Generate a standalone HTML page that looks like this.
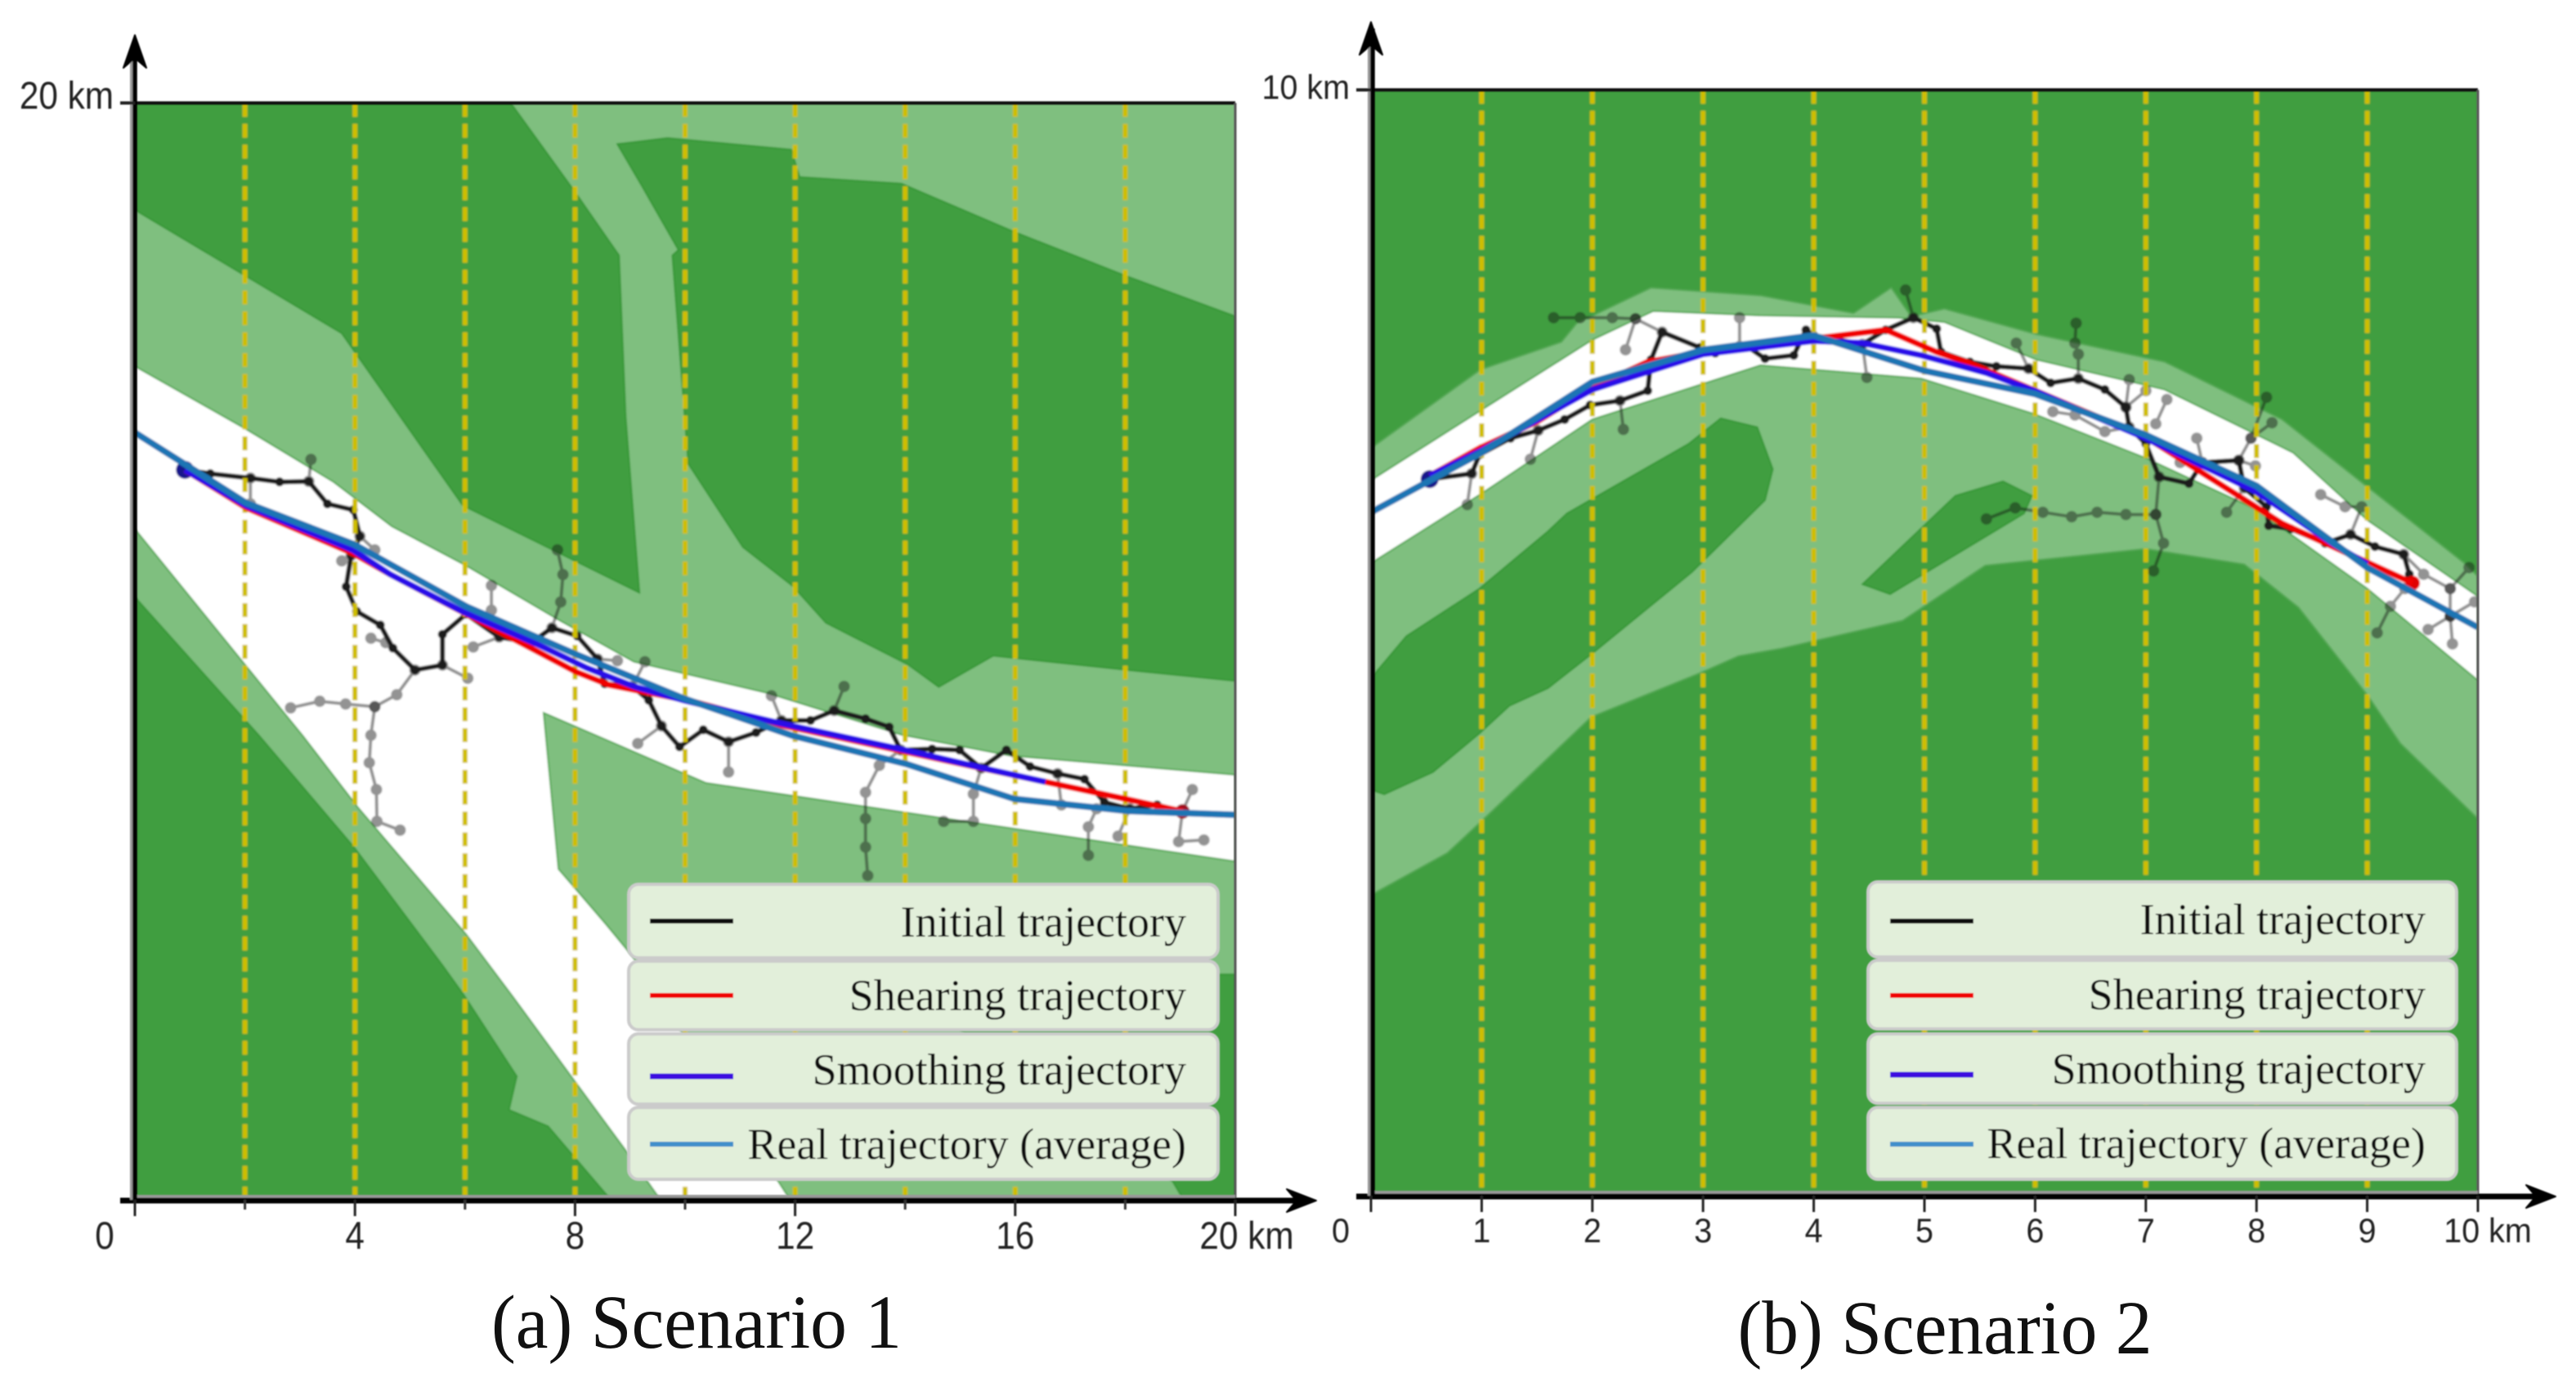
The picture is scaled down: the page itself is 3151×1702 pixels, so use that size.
<!DOCTYPE html>
<html lang="en">
<head>
<meta charset="utf-8">
<title>Trajectory planning scenarios</title>
<style>
html,body{margin:0;padding:0;background:#fff;}
svg{display:block;}
.serif{font-family:"Liberation Serif",serif;fill:#111;}
.sans{font-family:"Liberation Sans",sans-serif;fill:#222;}
</style>
</head>
<body>
<svg id="figure" xmlns="http://www.w3.org/2000/svg" width="3151" height="1702" viewBox="0 0 3151 1702">
<defs>
<filter id="soft" x="-2%" y="-2%" width="104%" height="104%"><feGaussianBlur stdDeviation="1"/></filter>
<filter id="softer" x="-2%" y="-5%" width="104%" height="110%"><feGaussianBlur stdDeviation="0.7"/></filter>
<clipPath id="clip-a"><rect x="165" y="126" width="1346" height="1342"/></clipPath>
<clipPath id="clip-b"><rect x="1677" y="110" width="1354" height="1353"/></clipPath>
</defs>
<g id="panel-a"></g>
<g id="panel-b"></g>

<g font-size="54" filter="url(#softer)">
  <g>
    <rect x="769" y="1082" width="721" height="90" rx="12" fill="#e2efda" stroke="#cbcbcb" stroke-width="4"/>
    <line x1="795" x2="897" y1="1127" y2="1127" stroke="#111" stroke-width="6"/>
    <text class="serif" x="1451" y="1146" text-anchor="end">Initial trajectory</text>
  </g>
  <g>
    <rect x="769" y="1176" width="721" height="84" rx="12" fill="#e2efda" stroke="#cbcbcb" stroke-width="4"/>
    <line x1="795" x2="897" y1="1218" y2="1218" stroke="#f00000" stroke-width="6"/>
    <text class="serif" x="1451" y="1236" text-anchor="end">Shearing trajectory</text>
  </g>
  <g>
    <rect x="769" y="1265" width="721" height="86" rx="12" fill="#e2efda" stroke="#cbcbcb" stroke-width="4"/>
    <line x1="795" x2="897" y1="1317" y2="1317" stroke="#3d10e0" stroke-width="7"/>
    <text class="serif" x="1451" y="1327" text-anchor="end">Smoothing trajectory</text>
  </g>
  <g>
    <rect x="769" y="1355" width="721" height="88" rx="12" fill="#e2efda" stroke="#cbcbcb" stroke-width="4"/>
    <line x1="795" x2="897" y1="1400" y2="1400" stroke="#3f8fcb" stroke-width="6"/>
    <text class="serif" x="1451" y="1418" text-anchor="end">Real trajectory (average)</text>
  </g>
</g>

<g font-size="54" filter="url(#softer)">
  <g>
    <rect x="2285" y="1079" width="720" height="92" rx="12" fill="#e2efda" stroke="#cbcbcb" stroke-width="4"/>
    <line x1="2312" x2="2414" y1="1127" y2="1127" stroke="#111" stroke-width="6"/>
    <text class="serif" x="2967" y="1143" text-anchor="end">Initial trajectory</text>
  </g>
  <g>
    <rect x="2285" y="1175" width="720" height="84" rx="12" fill="#e2efda" stroke="#cbcbcb" stroke-width="4"/>
    <line x1="2312" x2="2414" y1="1218" y2="1218" stroke="#f00000" stroke-width="6"/>
    <text class="serif" x="2967" y="1235" text-anchor="end">Shearing trajectory</text>
  </g>
  <g>
    <rect x="2285" y="1265" width="720" height="85" rx="12" fill="#e2efda" stroke="#cbcbcb" stroke-width="4"/>
    <line x1="2312" x2="2414" y1="1315" y2="1315" stroke="#3d10e0" stroke-width="7"/>
    <text class="serif" x="2967" y="1326" text-anchor="end">Smoothing trajectory</text>
  </g>
  <g>
    <rect x="2285" y="1355" width="720" height="88" rx="12" fill="#e2efda" stroke="#cbcbcb" stroke-width="4"/>
    <line x1="2312" x2="2414" y1="1400" y2="1400" stroke="#3f8fcb" stroke-width="6"/>
    <text class="serif" x="2967" y="1417" text-anchor="end">Real trajectory (average)</text>
  </g>
</g>

<text class="serif" x="852" y="1649" text-anchor="middle" font-size="93" textLength="502" lengthAdjust="spacingAndGlyphs">(a) Scenario 1</text>
<text class="serif" x="2379" y="1656" text-anchor="middle" font-size="93" textLength="507" lengthAdjust="spacingAndGlyphs">(b) Scenario 2</text>
</svg>

<script>
/* ---------- Scenario 1 data (km) ---------- */
const a_xMajorTicks = [0, 4, 8, 12, 16, 20];
const a_xMinorTicks = [2, 6, 10, 14, 18];
const a_xTickLabels = ['0', '4', '8', '12', '16', '20 km'];
const a_gridLines = [2, 4, 6, 8, 10, 12, 14, 16, 18];
const a_yLabel = '20 km';
const a_whiteRegion = [[0,15.2],[1.99,14.07],[3.61,13.09],[4.67,12.28],[6.01,11.57],[7.71,10.57],[9.07,9.81],[11.5,9.24],[13.93,8.48],[15.9,8.1],[20,7.75],[20,6.17],[10.38,7.6],[7.43,8.88],[7.7,6.03],[8.55,5.04],[9.05,4.43],[11.91,0],[9.55,0],[8.95,0.86],[7.98,2.18],[6.87,3.7],[6.02,4.84],[4.04,7.17],[3.05,8.46],[0,12.23]];
const a_darkRegions = [
  [[0,20],[6.83,20],[8.01,18.36],[8.8,17.22],[8.92,14.28],[9.17,11.07],[5.96,12.66],[3.76,15.8],[0,18.05]],
  [[8.77,19.25],[9.68,19.36],[11.93,19.15],[12.08,18.65],[13.93,18.53],[15.98,17.65],[18.03,16.84],[20,16.11],[20,9.46],[18.03,9.66],[15.6,9.92],[14.61,9.35],[14.05,9.76],[12.56,10.52],[11.96,11.19],[11.05,11.9],[10.06,13.42],[9.77,17.22],[9.88,17.32],[9.23,18.46]],
  [[0,10.99],[2.26,8.46],[3.99,6.42],[5.58,4.29],[5.98,3.73],[6.94,2.25],[6.8,1.64],[7.51,1.34],[8.65,0],[0,0]],
  [[20,4.11],[19.7,4.11],[15,3.1],[18.86,0.34],[19.06,0],[20,0]]
];
const a_initial = [[0.91,13.31],[1.37,13.24],[2.1,13.16],[2.63,13.09],[3.16,13.1],[3.5,12.69],[3.97,12.58],[4.09,12.1],[3.93,11.75],[3.84,11.18],[4.03,10.73],[4.46,10.48],[4.69,10.06],[5.09,9.66],[5.59,9.75],[5.59,10.31],[6.02,10.68],[6.62,10.26],[7.21,10.16],[7.58,10.43],[8.04,10.28],[8.41,9.86],[8.54,9.41],[9.04,9.36],[9.34,9.11],[9.57,8.64],[9.9,8.26],[10.33,8.57],[10.79,8.35],[11.29,8.52],[11.75,8.74],[12.28,8.74],[12.71,8.92],[13.28,8.77],[13.71,8.62],[13.92,8.2],[14.49,8.22],[14.99,8.2],[15.38,7.87],[15.84,8.2],[16.27,7.9],[16.77,7.77],[17.26,7.67],[17.62,7.25],[18.08,7.13],[18.58,7.2],[19.04,7.08]];
const a_shearing = [[0.91,13.31],[2.02,12.62],[3.96,11.79],[4.65,11.4],[5.95,10.72],[8.01,9.63],[8.61,9.39],[10.13,9.09],[11.72,8.66],[14,8.17],[16.55,7.62],[18.05,7.3],[19.05,7.08]];
const a_smoothing = [[0.91,13.31],[2.02,12.66],[3.96,11.85],[4.65,11.4],[5.95,10.73],[7.27,10.15],[8.21,9.7],[9.07,9.36],[10,9.1],[11.72,8.69],[14,8.2],[15.42,7.87],[16.55,7.62]];
const a_real = [[0,13.99],[2.02,12.71],[3.99,11.95],[6.04,10.81],[8.01,9.95],[9.98,9.14],[11.96,8.46],[14.01,7.95],[15.98,7.31],[18.04,7.09],[20,7.02]];
const a_branches = [
  [[3.16,13.1],[3.2,13.5]],
  [[2.1,13.16],[2.1,12.69]],
  [[4.09,12.1],[4.36,11.85]],
  [[3.93,11.75],[3.76,11.65]],
  [[4.29,10.24],[4.56,10.16]],
  [[5.09,9.66],[4.76,9.21],[4.36,8.99],[3.83,9.04],[3.36,9.09],[2.83,8.97]],
  [[4.36,8.99],[4.29,8.47],[4.26,7.97],[4.39,7.48],[4.4,6.9],[4.82,6.74]],
  [[5.59,9.75],[6.05,9.51]],
  [[6.62,10.26],[6.15,10.08]],
  [[6.48,10.75],[6.48,11.2]],
  [[7.58,10.43],[7.74,10.9],[7.78,11.4],[7.68,11.85]],
  [[8.41,9.86],[8.77,9.83]],
  [[9.04,9.36],[9.27,9.81]],
  [[9.57,8.64],[9.14,8.32]],
  [[10.79,8.35],[10.79,7.8]],
  [[11.75,8.74],[11.57,9.19]],
  [[12.71,8.92],[12.89,9.36]],
  [[13.92,8.2],[13.53,7.92],[13.28,7.43],[13.28,6.95],[13.28,6.43],[13.32,5.91]],
  [[15.38,7.87],[15.24,7.4],[15.24,6.9],[14.7,6.9]],
  [[16.77,7.77],[16.84,7.2]],
  [[17.48,7.13],[17.33,6.8],[17.33,6.28]],
  [[18.08,7.13],[17.87,6.63]],
  [[19.04,7.08],[19.22,7.48]],
  [[19.04,7.08],[18.97,6.53],[19.43,6.56]]
];

/* ---------- Scenario 2 data (km) ---------- */
const b_xMajorTicks = [0, 1, 2, 3, 4, 5, 6, 7, 8, 9, 10];
const b_xTickLabels = ['0', '1', '2', '3', '4', '5', '6', '7', '8', '9', '10 km'];
const b_gridLines = [1, 2, 3, 4, 5, 6, 7, 8, 9];
const b_yLabel = '10 km';
const b_lightRegion = [[0,6.76],[0.99,7.47],[1.72,7.72],[1.86,7.89],[2.53,8.21],[3.52,8.14],[4.36,7.98],[4.7,8.21],[4.88,7.95],[5.18,8.02],[6.01,7.79],[7.17,7.54],[8.23,7.02],[9.04,6.38],[9.89,5.71],[10,5.6],[10,3.41],[9.3,4.09],[9,4.53],[8.38,5.32],[7.89,5.71],[7,5.85],[5.55,5.7],[4.8,5.2],[3.71,4.95],[3.32,4.88],[2.98,4.73],[1.99,4.33],[0.98,3.37],[0.69,3.1],[0,2.72]];
const b_whiteRegion = [[0,6.47],[0.99,7.1],[2,7.74],[2.55,8],[3.52,7.96],[4.76,7.94],[5.18,7.9],[6.01,7.56],[7.17,7.29],[8.33,6.72],[9,6.11],[10,5.42],[10,4.66],[9,5.49],[7.99,6.21],[7,6.67],[5.99,7.07],[4.97,7.39],[3.52,7.51],[2,7.02],[1,6.35],[0,5.72]];
const b_darkRegions = [
  [[3.16,7.03],[3.49,6.95],[3.63,6.57],[3.56,6.29],[2.9,5.64],[2.02,4.92],[1.6,4.59],[1.25,4.43],[0.98,4.18],[0.56,3.83],[0.12,3.63],[0,3.67],[0,4.68],[0.32,5.06],[0.98,5.49],[1.59,6],[1.77,6.17],[2.87,6.8]],
  [[5.28,6.33],[5.71,6.46],[5.97,6.33],[5.9,6.17],[4.69,5.44],[4.44,5.53]]
];
const b_initial = [[0.53,6.48],[0.91,6.53],[0.98,6.7],[1.26,6.85],[1.51,6.92],[1.75,7.02],[1.98,7.15],[2.25,7.19],[2.5,7.28],[2.53,7.56],[2.63,7.81],[2.97,7.67],[3.11,7.62],[3.4,7.68],[3.56,7.57],[3.82,7.6],[3.93,7.83],[4,7.78],[4.44,7.7],[4.65,7.83],[4.9,7.94],[5.11,7.84],[5.15,7.63],[5.41,7.54],[5.65,7.5],[5.94,7.48],[6.14,7.35],[6.39,7.39],[6.63,7.29],[6.82,7.13],[6.85,6.95],[7,6.8],[7.12,6.5],[7.39,6.44],[7.51,6.63],[7.84,6.65],[7.89,6.4],[8.09,6.23],[8.11,6.06],[8.31,6.03],[8.62,5.9],[8.85,5.98],[9.07,5.87],[9.33,5.8],[9.38,5.62],[9.41,5.54]];
const b_shearing = [[0.53,6.51],[0.98,6.76],[1.5,7],[2,7.31],[2.5,7.54],[3,7.63],[4,7.75],[4.65,7.83],[5.11,7.63],[5.38,7.54],[6,7.28],[7,6.86],[8.23,6.08],[9.41,5.54]];
const b_smoothing = [[0.53,6.51],[1,6.74],[2,7.29],[3,7.61],[4,7.73],[4.44,7.71],[4.97,7.6],[5.56,7.44],[5.99,7.28],[7,6.85],[7.99,6.37],[8.7,5.89],[9,5.71]];
const b_real = [[0,6.18],[1,6.72],[2,7.36],[3,7.65],[4,7.78],[5,7.46],[6,7.25],[7,6.88],[8,6.42],[9,5.68],[10,5.14]];
const b_branches = [
  [[0.91,6.53],[0.87,6.25]],
  [[1.51,6.92],[1.44,6.66]],
  [[2.25,7.19],[2.28,6.93]],
  [[2.63,7.81],[2.39,7.93],[2.18,7.94],[1.89,7.94],[1.65,7.94]],
  [[2.39,7.93],[2.3,7.65]],
  [[3.33,7.68],[3.33,7.94]],
  [[4.44,7.7],[4.48,7.4]],
  [[4.9,7.94],[4.83,8.19]],
  [[5.94,7.48],[5.83,7.71]],
  [[6.39,7.39],[6.39,7.61],[6.36,7.71],[6.37,7.89]],
  [[6.82,7.13],[6.85,7.38]],
  [[6.82,7.13],[7,7.28]],
  [[6.85,6.95],[6.63,6.91],[6.36,7.06],[6.16,7.09]],
  [[7.09,6.98],[7.19,7.2]],
  [[7.12,6.5],[7.09,6.16],[7.16,5.9],[7.07,5.65]],
  [[7.09,6.16],[6.82,6.16],[6.56,6.18],[6.33,6.14],[6.07,6.18],[5.82,6.22],[5.56,6.12]],
  [[7.51,6.63],[7.46,6.85]],
  [[7.51,6.63],[7.31,6.63]],
  [[7.84,6.65],[7.95,6.85],[8.14,6.99]],
  [[7.95,6.85],[8.09,7.22]],
  [[7.84,6.65],[7.99,6.6]],
  [[7.89,6.4],[7.73,6.18]],
  [[8.85,5.98],[8.95,6.23],[8.8,6.23],[8.58,6.34]],
  [[9.33,5.8],[9.51,5.62],[9.75,5.49],[9.75,5.24],[9.97,5.37]],
  [[9.75,5.49],[9.92,5.68]],
  [[9.75,5.24],[9.55,5.12]],
  [[9.75,5.24],[9.77,4.99]],
  [[9.34,5.49],[9.21,5.33],[9.09,5.09]]
];

const SVGNS = 'http://www.w3.org/2000/svg';
function make(parent, tag, attrs) {
  const el = document.createElementNS(SVGNS, tag);
  for (const k in attrs) el.setAttribute(k, attrs[k]);
  parent.appendChild(el);
  return el;
}
function drawPanel(p) {
  const root = document.getElementById(p.id);
  const sx = v => p.left + (v / p.max) * (p.right - p.left);
  const sy = v => p.bottom - (v / p.max) * (p.bottom - p.top);
  const pts = arr => arr.map(d => sx(d[0]).toFixed(1) + ',' + sy(d[1]).toFixed(1)).join(' ');

  const plot = make(root, 'g', {'clip-path': 'url(#' + p.clip + ')'});
  
  
  const soft = make(plot, 'g', {filter: 'url(#soft)'});

  const base = make(soft, 'rect', {x: p.left, y: p.top, width: p.right - p.left, height: p.bottom - p.top, fill: p.baseFill});
  
  

  if (p.lightRegion) {
    const light = make(soft, 'polygon', {points: pts(p.lightRegion), fill: '#7fbf7f', stroke: '#55a855', 'stroke-width': 2});
    
    
  }
  const white = make(soft, 'polygon', {points: pts(p.whiteRegion), fill: '#ffffff', stroke: '#4fa54f', 'stroke-width': 2});
  
  
  p.darkRegions.forEach(r => {
    const dark = make(soft, 'polygon', {points: pts(r), fill: '#409e40', stroke: '#359735', 'stroke-width': 2});
    
    
  });

  p.branches.forEach(b => {
    const br = make(soft, 'g', {opacity: 0.45});
    
    
    make(br, 'polyline', {points: pts(b), fill: 'none', stroke: '#111', 'stroke-width': 4, 'stroke-linejoin': 'round'});
    b.forEach(d => make(br, 'circle', {cx: sx(d[0]), cy: sy(d[1]), r: 7, fill: '#111'}));
  });

  const initial = make(soft, 'g', {});
  
  
  make(initial, 'polyline', {points: pts(p.initial), fill: 'none', stroke: '#1c1c1c', 'stroke-width': 6, 'stroke-linejoin': 'round'});
  p.initial.forEach(d => make(initial, 'circle', {cx: sx(d[0]), cy: sy(d[1]), r: 5.5, fill: '#1c1c1c'}));

  p.gridLines.forEach(v => {
    const g = make(soft, 'line', {x1: sx(v), x2: sx(v), y1: p.top, y2: p.bottom, stroke: '#cfbe00', 'stroke-width': 6, 'stroke-dasharray': '17 8.5'});
    
    
  });

  const startPoint = make(soft, 'circle', {cx: sx(p.initial[0][0]), cy: sy(p.initial[0][1]), r: 11, fill: '#12128c'});
  
  
  const endPoint = make(soft, 'circle', {cx: sx(p.initial[p.initial.length - 1][0]), cy: sy(p.initial[p.initial.length - 1][1]), r: 9, fill: p.endFill});
  
  

  const shearing = make(soft, 'polyline', {points: pts(p.shearing), fill: 'none', stroke: '#f00000', 'stroke-width': 7.5, 'stroke-linejoin': 'round'});
  
  
  const smoothing = make(soft, 'polyline', {points: pts(p.smoothing), fill: 'none', stroke: '#2a10e8', 'stroke-width': 7.5, 'stroke-linejoin': 'round'});
  
  
  const real = make(soft, 'polyline', {points: pts(p.real), fill: 'none', stroke: '#1a74b4', 'stroke-width': 8, 'stroke-linejoin': 'round'});
  
  

  /* frame and axes */
  const axes = make(root, 'g', {filter: 'url(#softer)'});
  
  
  const topLine = make(axes, 'line', {x1: p.left, x2: p.right, y1: p.top, y2: p.top, stroke: '#111', 'stroke-width': 4});
  
  
  const rightLine = make(axes, 'line', {x1: p.right, x2: p.right, y1: p.top, y2: p.bottom, stroke: '#555', 'stroke-width': 3});
  
  

  const xHalo = make(axes, 'line', {x1: p.left, x2: p.right, y1: p.bottom - 2, y2: p.bottom - 2, stroke: '#999', 'stroke-width': 8});
  
  
  const xAxis = make(axes, 'line', {x1: p.left - 18, x2: p.xTip - 8, y1: p.bottom + 1, y2: p.bottom + 1, stroke: '#000', 'stroke-width': 7});
  
  
  const xHead = make(axes, 'polygon', {points: [[p.xTip, p.bottom + 1], [p.xTip - 36, p.bottom - 13], [p.xTip - 24, p.bottom + 1], [p.xTip - 36, p.bottom + 15]].map(d => d.join(',')).join(' '), fill: '#000', stroke: '#000', 'stroke-width': 2, 'stroke-linejoin': 'round'});
  
  

  const yHalo = make(axes, 'line', {x1: p.left + p.axisShift - 4, x2: p.left + p.axisShift - 4, y1: p.bottom, y2: p.yTip + 30, stroke: '#999', 'stroke-width': 4});
  
  
  const yAxis = make(axes, 'line', {x1: p.left + p.axisShift, x2: p.left + p.axisShift, y1: p.bottom + 3, y2: p.yTip + 8, stroke: '#000', 'stroke-width': 5.5});
  
  
  const yHead = make(axes, 'polygon', {points: [[p.left, p.yTip], [p.left - 14, p.yTip + 40], [p.left, p.yTip + 28], [p.left + 14, p.yTip + 40]].map(d => d.join(',')).join(' '), fill: '#000', stroke: '#000', 'stroke-width': 2, 'stroke-linejoin': 'round'});
  
  

  const yTick = make(axes, 'line', {x1: p.left - 18, x2: p.left, y1: p.top, y2: p.top, stroke: '#222', 'stroke-width': 4});
  
  
  const yLab = make(axes, 'text', {class: 'sans', 'text-anchor': 'end', 'font-size': p.fontSize, transform: 'translate(' + (p.left - 26) + ',' + (p.top + p.yLabelDy) + ') scale(' + p.hScale + ',1)'});
  
  
  yLab.textContent = p.yLabel;

  p.xMinor.forEach(v => {
    const t = make(axes, 'line', {x1: sx(v), x2: sx(v), y1: p.bottom, y2: p.bottom + 12, stroke: '#333', 'stroke-width': 3});
    
    
  });
  p.xMajor.forEach((v, i) => {
    const t = make(axes, 'line', {x1: sx(v), x2: sx(v), y1: p.bottom, y2: p.bottom + 20, stroke: '#222', 'stroke-width': 3});
    
    
    let offset = 0;
    if (i === 0) offset = -37;
    if (i === p.xMajor.length - 1) offset = p.lastOffset;
    const lab = make(axes, 'text', {class: 'sans', 'text-anchor': 'middle', 'font-size': p.fontSize, transform: 'translate(' + (sx(v) + offset) + ',' + p.labelY + ') scale(' + p.hScale + ',1)'});
    
    
    lab.textContent = p.xLabels[i];
  });
}

drawPanel({id: 'panel-a', clip: 'clip-a', left: 165, right: 1511, top: 126, bottom: 1468, max: 20,
  xTip: 1610, yTip: 43, baseFill: '#7fbf7f', endFill: '#a01020', fontSize: 47, hScale: 0.9, labelY: 1528, lastOffset: 14, yLabelDy: 7, axisShift: 0,
  xMajor: a_xMajorTicks, xMinor: a_xMinorTicks, xLabels: a_xTickLabels, gridLines: a_gridLines, yLabel: a_yLabel,
  whiteRegion: a_whiteRegion, darkRegions: a_darkRegions, lightRegion: null,
  initial: a_initial, shearing: a_shearing, smoothing: a_smoothing, real: a_real, branches: a_branches});
drawPanel({id: 'panel-b', clip: 'clip-b', left: 1677, right: 3031, top: 110, bottom: 1463, max: 10,
  xTip: 3126, yTip: 27, baseFill: '#409e40', endFill: '#e00000', fontSize: 42, hScale: 0.94, labelY: 1520, lastOffset: 12, yLabelDy: 11, axisShift: 2,
  xMajor: b_xMajorTicks, xMinor: [], xLabels: b_xTickLabels, gridLines: b_gridLines, yLabel: b_yLabel,
  whiteRegion: b_whiteRegion, darkRegions: b_darkRegions, lightRegion: b_lightRegion,
  initial: b_initial, shearing: b_shearing, smoothing: b_smoothing, real: b_real, branches: b_branches});
</script>
</body>
</html>
